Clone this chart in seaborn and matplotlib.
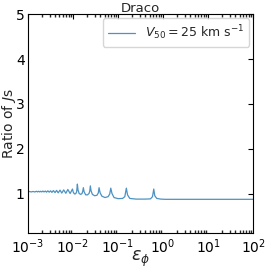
import numpy as np
import pandas as pd
import matplotlib
matplotlib.use("Agg")
import matplotlib.pyplot as plt
import seaborn as sns

log_eps = [-3.00, -2.97, -2.93, -2.89, -2.85, -2.81, -2.79, -2.765, -2.74, -2.72,
           -2.695, -2.67, -2.645, -2.616, -2.59, -2.56, -2.53, -2.50, -2.47, -2.436,
           -2.40, -2.366, -2.33, -2.29, -2.25, -2.208, -2.16, -2.116, -2.065, -2.013,
           -1.995, -1.97, -1.94, -1.92, -1.904,
           -1.89, -1.865, -1.83, -1.80, -1.785, -1.771,
           -1.755, -1.72, -1.68, -1.645, -1.628, -1.616,
           -1.60, -1.57, -1.52, -1.47, -1.44, -1.422,
           -1.40, -1.36, -1.29, -1.22, -1.185, -1.162,
           -1.135, -1.09, -1.00, -0.90, -0.85, -0.816,
           -0.79, -0.74, -0.60, -0.40, -0.28, -0.235, -0.207,
           -0.185, -0.14, -0.05, 0.05, 1.0, 2.0]
ratio = [1.04, 1.045, 1.035, 1.045, 1.035, 1.05, 1.035, 1.05, 1.035, 1.05,
         1.035, 1.055, 1.035, 1.055, 1.03, 1.06, 1.03, 1.06, 1.025, 1.065,
         1.02, 1.07, 1.015, 1.075, 1.01, 1.08, 1.005, 1.09, 1.00, 1.10,
         1.03, 0.99, 0.995, 1.04, 1.21,
         1.08, 1.00, 0.98, 1.00, 1.05, 1.13,
         1.04, 0.97, 0.97, 1.00, 1.06, 1.17,
         1.06, 0.98, 0.95, 0.96, 1.01, 1.13,
         1.02, 0.94, 0.91, 0.93, 0.99, 1.12,
         1.00, 0.91, 0.885, 0.89, 0.93, 1.12,
         0.97, 0.89, 0.875, 0.875, 0.88, 0.93, 1.10,
         0.95, 0.89, 0.875, 0.87, 0.87, 0.87]

eps = [10.0 ** v for v in log_eps]
df = pd.DataFrame({"eps": eps, "ratio": ratio})

sns.set_theme(style="white")
plt.rcParams.update({
    "font.family": ["DejaVu Sans"],
    "xtick.direction": "in", "ytick.direction": "in",
    "xtick.top": True, "ytick.right": True,
    "axes.edgecolor": "black", "axes.linewidth": 0.8,
    "xtick.major.size": 3.5, "ytick.major.size": 3.5,
    "xtick.minor.size": 2, "xtick.major.width": 0.8, "ytick.major.width": 0.8,
    "mathtext.fontset": "dejavusans",
})

fig = plt.figure(figsize=(2.67, 2.68), dpi=100)
ax = fig.add_axes([0.105, 0.131, 0.843, 0.815])
sns.lineplot(data=df, x="eps", y="ratio", ax=ax, color="#1f77b4", lw=0.9,
             alpha=0.8, label=r"$V_{50} = 25$ km s$^{-1}$")
ax.set_xscale("log")
ax.set_xlim(1e-3, 1e2)
ax.set_ylim(0.12, 5)
ax.set_yticks([1, 2, 3, 4, 5])
ax.tick_params(axis="both", which="major", labelsize=10, pad=3, colors="black")
ax.tick_params(axis="y", which="major", pad=2.5)
ax.tick_params(axis="x", which="minor", direction="in", top=True, bottom=True)
ax.set_xlabel(r"$\varepsilon_\phi$", fontsize=12.5)
ax.set_ylabel(r"Ratio of $J$s", fontsize=10)
ax.yaxis.set_label_coords(-0.043, 0.5)
ax.xaxis.set_label_coords(0.5, -0.075)
ax.set_title("Draco", fontsize=9.5, pad=1.5)
leg = ax.legend(loc="upper right", fontsize=9, frameon=True, handlelength=2.2,
                borderaxespad=0.3)
leg.get_frame().set_edgecolor("#cccccc")
for s in ax.spines.values():
    s.set_color("black")
fig.savefig("out.png", dpi=100)
